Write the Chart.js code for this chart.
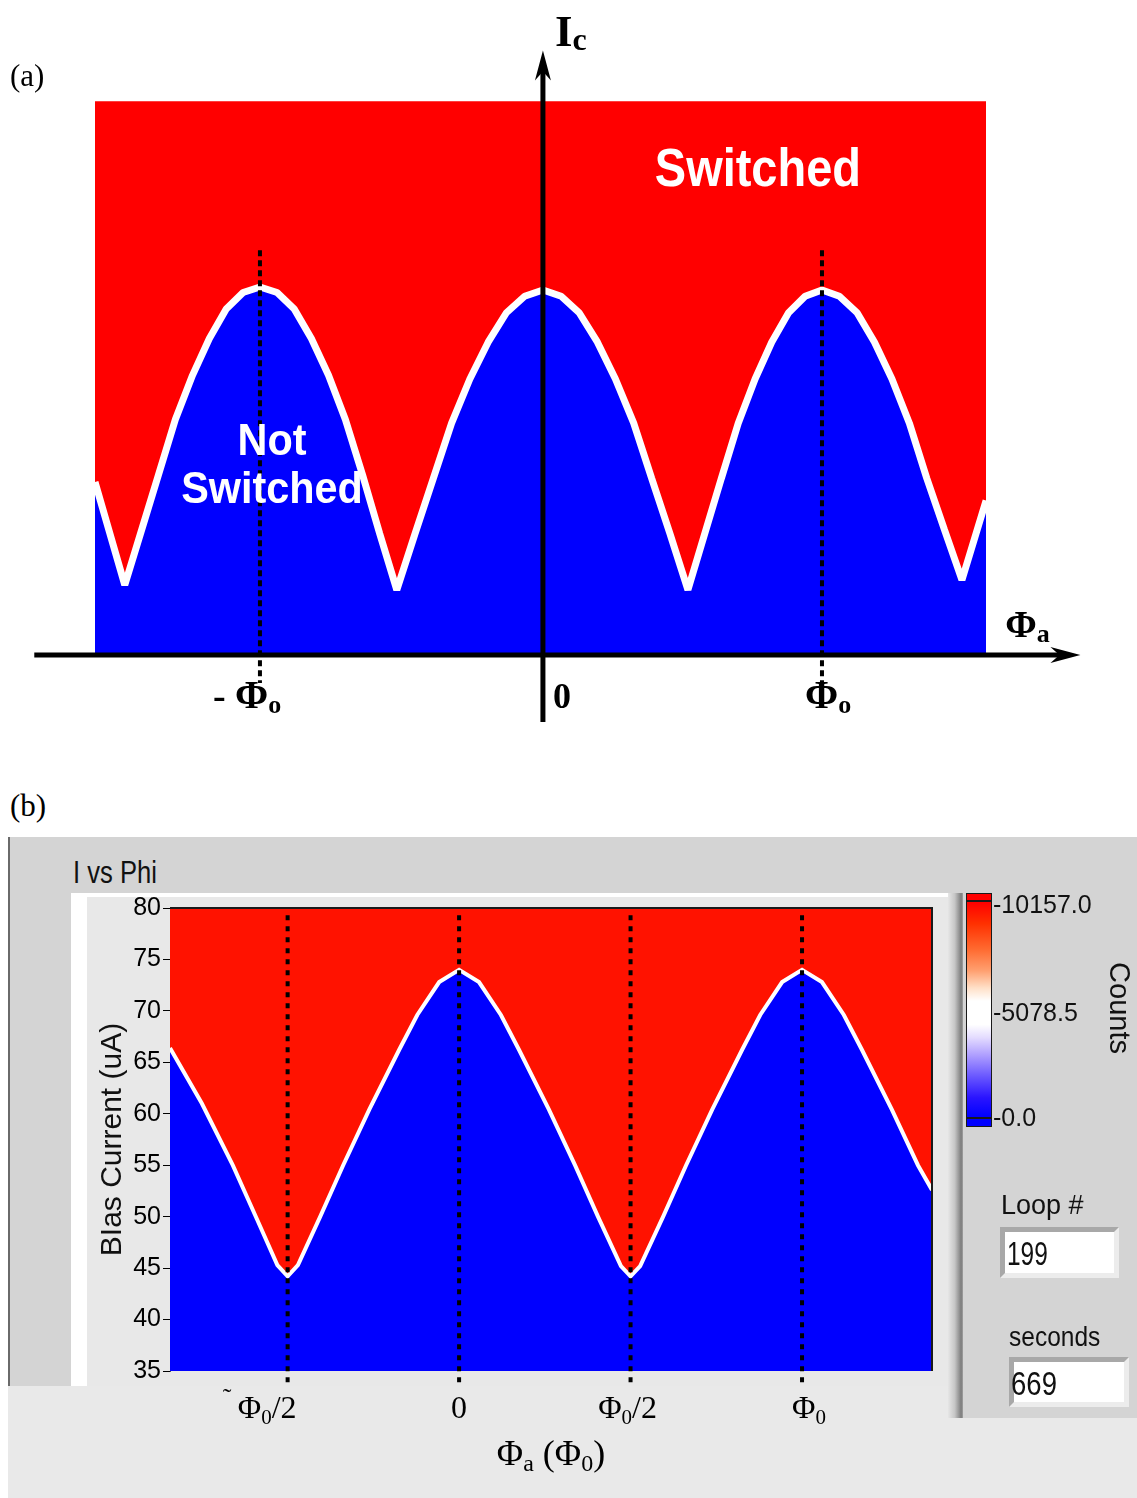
<!DOCTYPE html>
<html>
<head>
<meta charset="utf-8">
<script src="https://cdn.jsdelivr.net/npm/chart.js@4.4.1/dist/chart.umd.min.js"></script>
<style>
  body { margin: 0; background: #fff; }
  #page { position: relative; width: 1137px; height: 1498px; overflow: hidden; }
  .abs { position: absolute; }
  .lv { position: absolute; font-family: "Liberation Sans", Arial, sans-serif; color: #111; line-height: 1; white-space: nowrap; transform-origin: 0 0; }
  .serif { position: absolute; font-family: "Liberation Serif", "Times New Roman", serif; color: #000; line-height: 1; white-space: nowrap; }
  .box { position: absolute; background: #fff; border-style: solid; border-width: 5px; border-color: #a8a8a8 #ececec #ececec #a8a8a8; box-sizing: border-box; }
</style>
</head>
<body>
<div id="page">
  <canvas id="chartA" class="abs" width="1137" height="745" style="left:0;top:0"></canvas>
  <div class="serif" style="left:10px;top:60px;font-size:31px">(a)</div>
  <div class="serif" style="left:10px;top:790px;font-size:31px">(b)</div>

  <!-- front panel of the acquisition program -->
  <div class="abs" style="left:8px;top:1386px;width:1129px;height:112px;background:#e9e9e9"></div>
  <div class="abs" style="left:8px;top:837px;width:1129px;height:549px;background:#d4d4d4;border-left:2px solid #6a6a6a;box-sizing:border-box"></div>
  <div class="abs" style="left:963px;top:837px;width:174px;height:581px;background:#d4d4d4"></div>
  <div class="abs" style="left:948px;top:893px;width:15px;height:525px;background:linear-gradient(to right,#e6e6e6,#c6c6c6 45%,#7c7c7c 88%,#a2a2a2)"></div>
  <div class="abs" style="left:71px;top:893px;width:877px;height:493px;background:#fff"></div>
  <div class="abs" style="left:87px;top:897px;width:861px;height:489px;background:#e8e8e8"></div>
  <div class="lv" style="left:73px;top:856px;font-size:32px;transform:scaleX(0.8)">I vs Phi</div>

  <canvas id="chartB" class="abs" width="1137" height="661" style="left:0;top:837px"></canvas>

  <!-- colour scale -->
  <div class="abs" style="left:966px;top:893px;width:26px;height:234px;background:#1a1a1a">
    <div class="abs" style="left:1px;top:1px;width:24px;height:6px;background:#ff0000"></div>
    <div class="abs" style="left:1px;top:9px;width:24px;height:215px;background:linear-gradient(to bottom,#ff0000 0%,#ff3000 10%,#ff6a30 22%,#ffa070 32%,#ffe0c8 40%,#ffffff 46%,#ffffff 57%,#e4dcff 63%,#b0a0ff 71%,#6a58ff 81%,#2a14ff 91%,#0000ff 100%)"></div>
    <div class="abs" style="left:1px;top:226px;width:24px;height:7px;background:#0000ff"></div>
  </div>
  <div id="scaleLabels"></div>
  <div class="lv" style="left:1119px;top:1008px;font-size:29px;transform-origin:center;transform:translate(-50%,-50%) rotate(90deg)">Counts</div>

  <div class="lv" style="left:1001px;top:1192px;font-size:27px">Loop #</div>
  <div class="box" style="left:1000px;top:1227px;width:119px;height:51px"></div>
  <div class="lv" style="left:1007px;top:1236px;font-size:34px;transform:scaleX(0.72)">199</div>
  <div class="lv" style="left:1009px;top:1323px;font-size:28px;transform:scaleX(0.875)">seconds</div>
  <div class="box" style="left:1009px;top:1357px;width:120px;height:50px"></div>
  <div class="lv" style="left:1011px;top:1366px;font-size:34px;transform:scaleX(0.81)">669</div>
</div>

<script>
// ---------- (a) schematic: applied flux in Phi0, Ic normalised to its peak ----------
const phiA = [-1.594,
  -1.488, -1.428, -1.368, -1.308, -1.247, -1.187, -1.127, -1.067, -1.007,
  -0.946, -0.885, -0.824, -0.763, -0.703, -0.642, -0.581, -0.52,
  -0.455, -0.39, -0.325, -0.26, -0.195, -0.13, -0.065, 0,
  0.065, 0.129, 0.194, 0.258, 0.323, 0.387, 0.452, 0.516,
  0.576, 0.635, 0.695, 0.755, 0.814, 0.874, 0.933, 0.993,
  1.055, 1.118, 1.18, 1.242, 1.304, 1.366, 1.429, 1.491,
  1.577];
const icA = [0.47,
  0.19, 0.34, 0.49, 0.64, 0.76, 0.86, 0.94, 0.985, 1.0,
  0.985, 0.94, 0.86, 0.76, 0.64, 0.49, 0.33, 0.177,
  0.33, 0.48, 0.63, 0.75, 0.85, 0.93, 0.975, 0.992,
  0.975, 0.93, 0.85, 0.75, 0.63, 0.48, 0.33, 0.177,
  0.33, 0.48, 0.63, 0.75, 0.85, 0.93, 0.975, 0.992,
  0.975, 0.93, 0.85, 0.75, 0.63, 0.48, 0.34, 0.204,
  0.42];
const switchedPhi = [-1.594, 1.577];
const switchedTop = 1.505;
const marksA = [-1.007, 0.993];  // dotted lines at -Phi0 and Phi0
const marksSpanA = [1.10, -0.076];
const axisPhi = [-1.81, 1.87];
const axisIc = [-0.182, 1.61];

// ---------- (b) measurement: flux in Phi0, switching boundary in uA ----------
const phiB = [-0.843, -0.75, -0.66, -0.59, -0.53, -0.5, -0.47, -0.405, -0.338, -0.262, -0.175, -0.122, -0.058, 0,
  0.058, 0.122, 0.175, 0.262, 0.338, 0.405, 0.472, 0.5, 0.528, 0.595, 0.662, 0.738, 0.825, 0.878, 0.942, 1,
  1.058, 1.122, 1.175, 1.262, 1.338, 1.379];
const biasB = [66.4, 61.0, 55.0, 49.8, 45.3, 44.2, 45.3, 50.0, 55.0, 60.4, 66.2, 69.6, 72.8, 74.0,
  72.8, 69.6, 66.2, 60.4, 55.0, 50.0, 45.2, 44.2, 45.2, 50.0, 55.0, 60.4, 66.2, 69.6, 72.8, 74.0,
  72.8, 69.6, 66.2, 60.4, 55.0, 52.6];
const marksB = [-0.5, 0, 0.5, 1];
const marksSpanB = [79.3, 33.65];
const tickLabelsB = ['˜Φ0/2', '0', 'Φ0/2', 'Φ0'];
const countTicks = ['10157.0', '5078.5', '0.0'];

const RED = '#ff0000', RED_B = '#ff1200', BLUE = '#0000ff';

// colour scale labels
const scaleTops = [892, 1000, 1105];
document.getElementById('scaleLabels').innerHTML = countTicks.map((t, i) =>
  '<div class="lv" style="left:993px;top:' + scaleTops[i] + 'px;font-size:25px">-' + t + '</div>').join('');

function pts(xs, ys) { return xs.map((v, i) => ({ x: v, y: ys[i] })); }

// draw a run of text pieces [text, size, dy]
function rich(ctx, parts, x, y, weight, align, family) {
  family = family || '"Liberation Serif"';
  let w = 0;
  parts.forEach(p => { ctx.font = weight + ' ' + p[1] + 'px ' + family; w += ctx.measureText(p[0]).width; });
  let cx = align === 'center' ? x - w / 2 : x;
  ctx.textAlign = 'left';
  ctx.textBaseline = 'alphabetic';
  parts.forEach(p => {
    ctx.font = weight + ' ' + p[1] + 'px ' + family;
    ctx.fillText(p[0], cx, y + p[2]);
    cx += ctx.measureText(p[0]).width;
  });
}

function squeezed(ctx, text, x, y, font, sx) {
  ctx.save();
  ctx.translate(x, y);
  ctx.scale(sx, 1);
  ctx.font = font;
  ctx.textAlign = 'center';
  ctx.textBaseline = 'alphabetic';
  ctx.fillText(text, 0, 0);
  ctx.restore();
}

function arrowHead(ctx, x, y, dx, dy) {
  const L = 30, W = 8, N = 9;
  const bx = x - dx * L, by = y - dy * L, nx = -dy, ny = dx;
  ctx.beginPath();
  ctx.moveTo(x, y);
  ctx.lineTo(bx + nx * W, by + ny * W);
  ctx.lineTo(x - dx * (L - N), y - dy * (L - N));
  ctx.lineTo(bx - nx * W, by - ny * W);
  ctx.closePath();
  ctx.fill();
}

function labelParts(label, size, sub) {
  const parts = [];
  for (let i = 0; i < label.length; i++) {
    const c = label[i];
    if (c === '˜') parts.push([c + ' ', 26, -12]);
    else if (c === '0' && label[i - 1] === 'Φ') parts.push(['0', sub, 6]);
    else parts.push([c, size, 0]);
  }
  return parts;
}

const annotA = {
  id: 'annotA',
  afterDatasetsDraw(chart) {
    const { ctx, scales: { x, y } } = chart;
    const X = v => x.getPixelForValue(v), Y = v => y.getPixelForValue(v);
    ctx.save();
    ctx.fillStyle = '#000';
    arrowHead(ctx, X(axisPhi[1]) + 12, Y(0), 1, 0);
    arrowHead(ctx, X(0), Y(axisIc[1]) - 12, 0, -1);

    ctx.fillStyle = '#fff';
    squeezed(ctx, 'Switched', X(0.765), Y(1.274), 'bold 54px "Liberation Sans"', 0.87);
    squeezed(ctx, 'Not', X(-0.964), Y(0.543), 'bold 45px "Liberation Sans"', 0.92);
    squeezed(ctx, 'Switched', X(-0.964), Y(0.413), 'bold 45px "Liberation Sans"', 0.92);

    ctx.fillStyle = '#000';
    const base = Y(0) + 53;
    rich(ctx, [['- ', 38, 0], ['Φ', 40, 0], ['o', 26, 5]], X(marksA[0]) - 47, base, 'bold');
    rich(ctx, [['0', 36, 0]], X(0) + 10, base, 'bold');
    rich(ctx, [['Φ', 40, 0], ['o', 26, 5]], X(marksA[1]) - 17, base, 'bold');
    rich(ctx, [['Φ', 38, 0], ['a', 26, 5]], X(1.645), Y(0) - 18, 'bold');
    rich(ctx, [['I', 45, 0], ['c', 32, 4]], X(0) + 12, Y(axisIc[1]) - 17, 'bold');
    ctx.restore();
  }
};

new Chart(document.getElementById('chartA'), {
  type: 'scatter',
  data: {
    datasets: [
      { data: pts(switchedPhi, [switchedTop, switchedTop]), showLine: true, fill: 'origin',
        backgroundColor: RED, borderWidth: 0, pointRadius: 0, order: 4 },
      { data: pts(phiA, icA), showLine: true, fill: 'origin', backgroundColor: BLUE,
        borderColor: '#fff', borderWidth: 7, borderJoinStyle: 'bevel', pointRadius: 0, order: 3 },
      ...marksA.map(m => ({ data: pts([m, m], marksSpanA), showLine: true, borderColor: '#000',
        borderWidth: 4, borderDash: [6, 4], pointRadius: 0, order: 2 })),
      { data: pts(axisPhi, [0, 0]), showLine: true, borderColor: '#000', borderWidth: 5, pointRadius: 0, order: 1 },
      { data: pts([0, 0], axisIc), showLine: true, borderColor: '#000', borderWidth: 5, pointRadius: 0, order: 1 }
    ]
  },
  options: {
    responsive: false,
    animation: false,
    devicePixelRatio: 1,
    layout: { padding: 0 },
    scales: {
      x: { type: 'linear', min: -1.932, max: 2.114, display: false },
      y: { type: 'linear', min: -0.2446, max: 1.78, display: false }
    },
    plugins: { legend: { display: false }, tooltip: { enabled: false } }
  },
  plugins: [annotA]
});

const frameB = {
  id: 'frameB',
  afterDraw(chart) {
    const { ctx, chartArea: a, scales: { x } } = chart;
    ctx.save();
    ctx.strokeStyle = '#1a1a1a';
    ctx.lineWidth = 2;
    ctx.beginPath();
    ctx.moveTo(a.left, a.top);
    ctx.lineTo(a.right, a.top);
    ctx.lineTo(a.right, a.bottom);
    ctx.stroke();
    ctx.fillStyle = '#000';
    const shift = [-28, 0, -3, 7];
    marksB.forEach((v, i) => rich(ctx, labelParts(tickLabelsB[i], 32, 21), x.getPixelForValue(v) + shift[i], a.bottom + 47, '', 'center'));
    rich(ctx, [['Φ', 36, 0], ['a', 24, 6], [' (', 36, 0], ['Φ', 36, 0], ['0', 24, 6], [')', 36, 0]],
      (a.left + a.right) / 2, a.bottom + 94, '', 'center');
    ctx.restore();
  }
};

new Chart(document.getElementById('chartB'), {
  type: 'scatter',
  data: {
    datasets: [
      { data: pts(phiB, biasB), showLine: true, fill: 'end', backgroundColor: RED_B,
        borderWidth: 0, pointRadius: 0, order: 3 },
      { data: pts(phiB, biasB), showLine: true, fill: 'start', backgroundColor: BLUE,
        borderColor: '#ffffff', borderWidth: 4, pointRadius: 0, order: 2 },
      ...marksB.map(m => ({ data: pts([m, m], marksSpanB), showLine: true, borderColor: '#000',
        borderWidth: 4, borderDash: [5, 6], pointRadius: 0, clip: false, order: 1 }))
    ]
  },
  options: {
    responsive: false,
    animation: false,
    devicePixelRatio: 1,
    layout: { padding: { left: 95, top: 71, right: 205, bottom: 127 } },
    scales: {
      x: { type: 'linear', min: -0.843, max: 1.379, display: false },
      y: {
        type: 'linear', min: 35, max: 80,
        ticks: { stepSize: 5, padding: 2, color: '#000', font: { family: 'Liberation Sans', size: 25 } },
        grid: { drawOnChartArea: false, drawTicks: true, tickLength: 7, tickColor: '#000', tickWidth: 1 },
        border: { display: true, color: '#555', width: 1 },
        title: { display: true, text: 'BIas Current (uA)', color: '#111', padding: 0,
          font: { family: 'Liberation Sans', size: 30 } },
        afterFit(scale) { scale.width = 75; }
      }
    },
    plugins: { legend: { display: false }, tooltip: { enabled: false } }
  },
  plugins: [frameB]
});
</script>
</body>
</html>
